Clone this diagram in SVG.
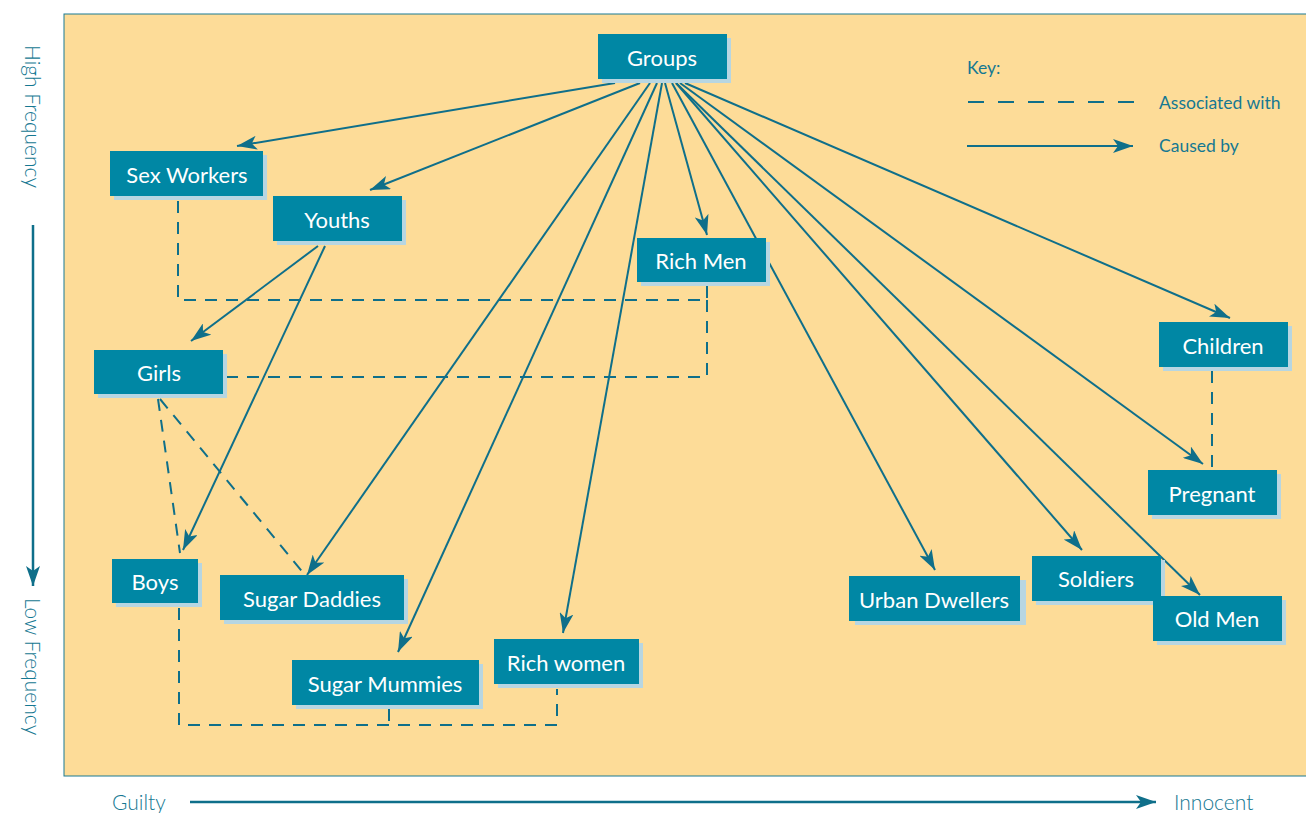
<svg xmlns="http://www.w3.org/2000/svg" width="1306" height="813" viewBox="0 0 1306 813">
<style>
.bg{fill:#fddc98;stroke:#1b7a93;stroke-width:1}
.sh{fill:#b7d6e2}
.box{fill:#0087a4}
.lbl{fill:#ffffff;font-family:Lato,"Open Sans",sans-serif;font-size:22px;font-weight:400;text-anchor:middle;dominant-baseline:central}
.ln{fill:none;stroke:#0f6f8a;stroke-width:2}
.ar{marker-end:url(#ah)}
.ds{fill:none;stroke:#0f6f8a;stroke-width:2;stroke-dasharray:12 9}
.tx{fill:#157892;font-family:Lato,"Open Sans",sans-serif;font-size:17.5px;font-weight:400}
.ax{font-size:21px;font-weight:300}
</style>
<defs>
<marker id="ah" markerWidth="22" markerHeight="14" refX="20" refY="7" orient="auto" markerUnits="userSpaceOnUse">
<path d="M0,0 L20,7 L0,14 L5,7 z" fill="#0f6f8a"/>
</marker>
</defs>
<rect class="bg" x="64" y="14" width="1250" height="762"/>

<g id="connectors">
<line class="ln ar" x1="615" y1="83" x2="237" y2="146"/>
<line class="ln ar" x1="640" y1="83" x2="370" y2="190"/>
<line class="ln ar" x1="650" y1="83" x2="307" y2="575"/>
<line class="ln ar" x1="657" y1="83" x2="398" y2="652"/>
<line class="ln ar" x1="662" y1="83" x2="563" y2="633"/>
<line class="ln ar" x1="665" y1="83" x2="707" y2="235"/>
<line class="ln ar" x1="672" y1="83" x2="935" y2="570"/>
<line class="ln ar" x1="676" y1="83" x2="1082" y2="550"/>
<line class="ln ar" x1="676" y1="83" x2="1200" y2="595"/>
<line class="ln ar" x1="680" y1="83" x2="1203" y2="464"/>
<line class="ln ar" x1="685" y1="83" x2="1230" y2="318"/>
<line class="ln ar" x1="318" y1="246" x2="191" y2="341"/>
<line class="ln ar" x1="325" y1="246" x2="183" y2="550"/>
<path class="ds" d="M178,201 V300 H707 V284"/>
<path class="ds" d="M707,300 V377 H227"/>
<line class="ds" x1="158" y1="399" x2="180" y2="553"/>
<line class="ds" x1="160" y1="399" x2="305" y2="575"/>
<path class="ds" d="M179,608 V725 H557 V689"/>
<line class="ds" x1="389" y1="709" x2="389" y2="725"/>
<line class="ds" x1="1212" y1="371" x2="1212" y2="468"/>
</g>

<g id="n-groups"><rect class="sh" x="602" y="38" width="129" height="45"/><rect class="box" x="598" y="34" width="129" height="45"/><text class="lbl" x="662" y="57">Groups</text></g>
<g id="n-sexworkers"><rect class="sh" x="114" y="155" width="153" height="45"/><rect class="box" x="110" y="151" width="153" height="45"/><text class="lbl" x="187" y="174">Sex Workers</text></g>
<g id="n-youths"><rect class="sh" x="277" y="200" width="129" height="45"/><rect class="box" x="273" y="196" width="129" height="45"/><text class="lbl" x="337" y="219">Youths</text></g>
<g id="n-richmen"><rect class="sh" x="641" y="242" width="129" height="44"/><rect class="box" x="637" y="238" width="129" height="44"/><text class="lbl" x="701" y="260">Rich Men</text></g>
<g id="n-girls"><rect class="sh" x="98" y="354" width="129" height="44"/><rect class="box" x="94" y="350" width="129" height="44"/><text class="lbl" x="159" y="372">Girls</text></g>
<g id="n-children"><rect class="sh" x="1163" y="326" width="129" height="45"/><rect class="box" x="1159" y="322" width="129" height="45"/><text class="lbl" x="1223" y="345">Children</text></g>
<g id="n-pregnant"><rect class="sh" x="1152" y="474" width="129" height="45"/><rect class="box" x="1148" y="470" width="129" height="45"/><text class="lbl" x="1212" y="493">Pregnant</text></g>
<g id="n-boys"><rect class="sh" x="116" y="563" width="86" height="44"/><rect class="box" x="112" y="559" width="86" height="44"/><text class="lbl" x="155" y="581">Boys</text></g>
<g id="n-sugardaddies"><rect class="sh" x="224" y="579" width="184" height="45"/><rect class="box" x="220" y="575" width="184" height="45"/><text class="lbl" x="312" y="598">Sugar Daddies</text></g>
<g id="n-sugarmummies"><rect class="sh" x="296" y="664" width="187" height="45"/><rect class="box" x="292" y="660" width="187" height="45"/><text class="lbl" x="385" y="683">Sugar Mummies</text></g>
<g id="n-richwomen"><rect class="sh" x="498" y="643" width="145" height="45"/><rect class="box" x="494" y="639" width="145" height="45"/><text class="lbl" x="566" y="662">Rich women</text></g>
<g id="n-urban"><rect class="sh" x="855" y="580" width="171" height="45"/><rect class="box" x="849" y="576" width="171" height="45"/><text class="lbl" x="934" y="599">Urban Dwellers</text></g>
<g id="n-soldiers"><rect class="sh" x="1036" y="560" width="129" height="45"/><rect class="box" x="1032" y="556" width="129" height="45"/><text class="lbl" x="1096" y="578">Soldiers</text></g>
<g id="n-oldmen"><rect class="sh" x="1157" y="600" width="129" height="45"/><rect class="box" x="1153" y="596" width="129" height="45"/><text class="lbl" x="1217" y="618">Old Men</text></g>

<g id="key">
<text class="tx" x="967" y="74">Key:</text>
<line class="ds" x1="968" y1="102" x2="1136" y2="102" style="stroke-dasharray:16 14"/>
<text class="tx" x="1159" y="109">Associated with</text>
<line class="ln ar" x1="967" y1="146" x2="1133" y2="146"/>
<text class="tx" x="1159" y="152">Caused by</text>
</g>

<g id="axes">
<text class="tx ax" transform="translate(25,45) rotate(90)">High Frequency</text>
<line class="ln ar" x1="33" y1="225" x2="33" y2="586" style="stroke-width:2.5"/>
<text class="tx ax" transform="translate(25,598) rotate(90)">Low Frequency</text>
<text class="tx ax" x="112" y="810">Guilty</text>
<line class="ln ar" x1="190" y1="802" x2="1156" y2="802" style="stroke-width:2.5"/>
<text class="tx ax" x="1174" y="810">Innocent</text>
</g>
</svg>
